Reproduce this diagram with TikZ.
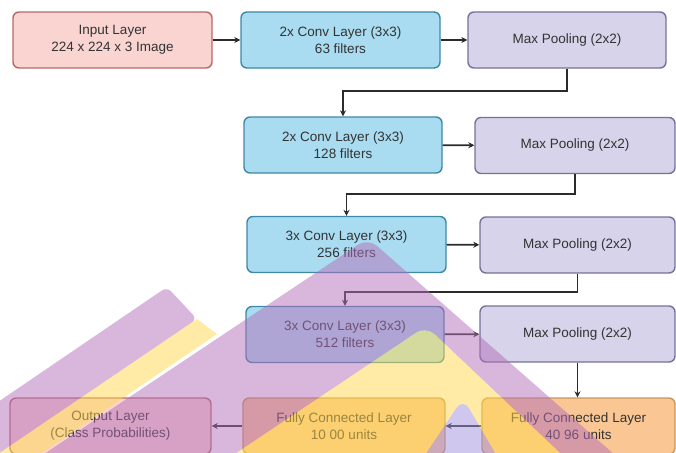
\documentclass[tikz,border=0pt]{standalone}
\usepackage{fontspec}
\setmainfont{Liberation Sans}
\usetikzlibrary{arrows.meta}
\definecolor{txt}{HTML}{333333}
\definecolor{lineC}{HTML}{2B2B2B}
\definecolor{inFill}{HTML}{F9D4D1}
\definecolor{inDraw}{HTML}{B56A66}
\definecolor{convFill}{HTML}{A9DCF0}
\definecolor{convDraw}{HTML}{3F88A6}
\definecolor{poolFill}{HTML}{D6D3EA}
\definecolor{poolDraw}{HTML}{76719A}
\definecolor{fcFill}{HTML}{FAC794}
\definecolor{fcDraw}{HTML}{C8975A}
\definecolor{wmPurple}{HTML}{B46FBA}
\definecolor{wmYellow}{HTML}{FFD84D}
\definecolor{wmLav}{HTML}{A28FE0}
\begin{document}
\begin{tikzpicture}[x=1pt,y=-1pt,
  box/.style={draw, rounded corners=6pt, line width=1.4pt, align=center, text=txt,
    font=\fontsize{13.5}{17}\selectfont, inner sep=0pt, minimum height=56pt},
  inbox/.style={box, fill=inFill, draw=inDraw},
  convbox/.style={box, fill=convFill, draw=convDraw},
  poolbox/.style={box, fill=poolFill, draw=poolDraw},
  fcbox/.style={box, fill=fcFill, draw=fcDraw},
  arr/.style={draw=lineC, line width=1.7pt, -{Stealth[length=6pt,width=6pt]}},
  wm/.style={opacity=0.5}]
\useasboundingbox (0,0) rectangle (676,452);

% row 1
\node[inbox, minimum width=199pt] (in) at (112.5,40) {Input Layer\\224 x 224 x 3 Image};
\node[convbox, minimum width=199pt] (c1) at (340.5,40) {2x Conv Layer (3x3)\\63 filters};
\node[poolbox, minimum width=198pt] (m1) at (567,40) {Max Pooling (2x2)};
% row 2
\node[convbox, minimum width=198pt] (c2) at (343,145) {2x Conv Layer (3x3)\\128 filters};
\node[poolbox, minimum width=200pt] (m2) at (575,145.5) {Max Pooling (2x2)};
% row 3
\node[convbox, minimum width=199pt] (c3) at (346.5,244.5) {3x Conv Layer (3x3)\\256 filters};
\node[poolbox, minimum width=195pt] (m3) at (577.5,245) {Max Pooling (2x2)};
% row 4
\node[convbox, minimum width=198pt] (c4) at (345,334.5) {3x Conv Layer (3x3)\\512 filters};
\node[poolbox, minimum width=195pt] (m4) at (577.5,334) {Max Pooling (2x2)};
% row 5
\node[inbox, minimum width=201pt] (out) at (110.5,426) {Output Layer\\(Class Probabilities)};
\node[fcbox, minimum width=202pt] (fc1) at (344,426) {Fully Connected Layer\\10 00 units};
\node[fcbox, minimum width=193pt] (fc2) at (578.5,426) {Fully Connected Layer\\40 96 units};

% connectors
\draw[arr] (in) -- (c1);
\draw[arr] (c1) -- (m1);
\draw[arr] (m1.south) -- ++(0,22) -| (c2.north);
\draw[arr] (c2) -- (m2);
\draw[arr] (m2.south) -- ++(0,20) -| (c3.north);
\draw[arr] (c3) -- (m3);
\draw[arr] (m3.south) -- ++(0,18) -| (c4.north);
\draw[arr] (c4) -- (m4);
\draw[arr] (m4.south) -- (m4.south |- fc2.north);
\draw[arr] (fc2) -- (fc1);
\draw[arr] (fc1) -- (out);

% watermark overlay
\fill[wmPurple, wm, even odd rule, rounded corners=12pt]
  (368,238) -- (632,470) -- (20,470) -- cycle
  (426,326) -- (578,470) -- (211,470) -- cycle;
\fill[wmYellow, wm, even odd rule, rounded corners=12pt]
  (426,326) -- (578,470) -- (211,470) -- cycle
  (463,398) -- (505,470) -- (415,470) -- cycle;
\fill[wmLav, wm, rounded corners=12pt] (463,398) -- (505,470) -- (415,470) -- cycle;
\fill[wmPurple, wm, rounded corners=6pt] (167,287) -- (-30,421) -- (-30,473) -- (197,319) -- cycle;
\fill[wmYellow, wm] (197,319) -- (-30,473) -- (-30,502) -- (217,334) -- cycle;
\end{tikzpicture}
\end{document}
